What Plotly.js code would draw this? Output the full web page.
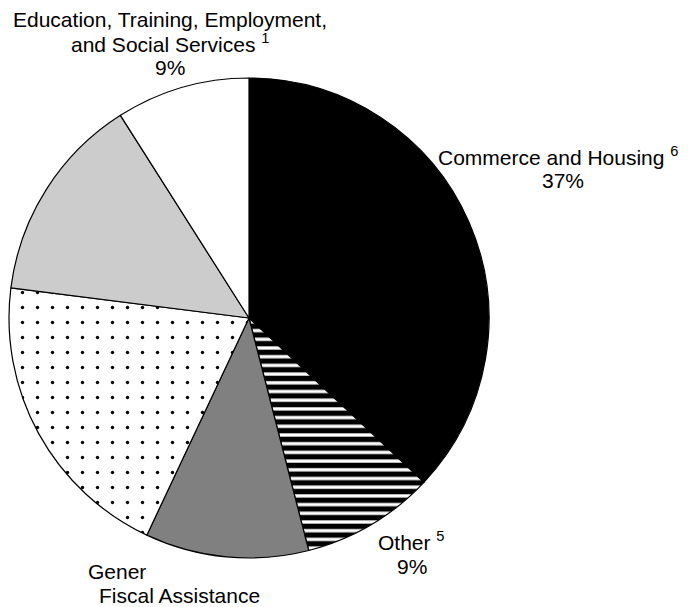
<!DOCTYPE html>
<html>
<head>
<meta charset="utf-8">
<script src="https://cdn.plot.ly/plotly-3.0.1.min.js"></script>
<style>html,body{margin:0;padding:0;background:#fff;}#chart{width:689px;height:607px;}</style>
</head>
<body>
<div id="chart"></div>
<script>
const categories = ["Commerce and Housing", "Other", "General Purpose Fiscal Assistance", "Unlabeled A", "Unlabeled B", "Education, Training, Employment, and Social Services"];
const shares = [37, 9, 11, 20, 14, 9];
const sliceColors = ["#000000", "#ffffff", "#808080", "#ffffff", "#cccccc", "#ffffff"];
const patternShapes = ["", "-", "", ".", "", ""];

const trace = {
  type: "pie",
  labels: categories,
  values: shares,
  sort: false,
  direction: "clockwise",
  rotation: 0,
  textinfo: "none",
  hoverinfo: "label+percent",
  showlegend: false,
  domain: {x: [9 / 689, 489 / 689], y: [49 / 607, 529 / 607]},
  marker: {
    colors: sliceColors,
    line: {color: "#000000", width: 1.2},
    pattern: {
      shape: patternShapes,
      fgcolor: "#000000",
      bgcolor: sliceColors,
      size: [8, 8.7, 8, 15, 8, 8],
      solidity: [0.3, 0.62, 0.3, 0.04, 0.3, 0.3],
      fillmode: "replace"
    }
  }
};

const font = {family: "Liberation Sans, Arial, sans-serif", size: 21, color: "#000"};
const annotations = [
  {x: 170, y: 19, text: "Education, Training, Employment,"},
  {x: 170, y: 43, text: "and Social Services <sup>1</sup>"},
  {x: 170, y: 67, text: "9%"},
  {x: 558, y: 156, text: "Commerce and Housing <sup>6</sup>"},
  {x: 563, y: 180, text: "37%"},
  {x: 411, y: 541, text: "Other <sup>5</sup>"},
  {x: 412, y: 566, text: "9%"},
  {x: 87, y: 571, text: "Gener", xanchor: "left"},
  {x: 98, y: 595, text: "Fiscal Assistance", xanchor: "left"}
].map(a => Object.assign({
  xref: "paper", yref: "paper", showarrow: false, align: "center",
  xanchor: "center", yanchor: "middle", font: font, borderpad: 0
}, a, {x: a.x / 689, y: 1 - a.y / 607}));

const layout = {
  width: 689, height: 607,
  margin: {l: 0, r: 0, t: 0, b: 0},
  paper_bgcolor: "#ffffff",
  plot_bgcolor: "#ffffff",
  annotations: annotations
};

Plotly.newPlot("chart", [trace], layout, {displayModeBar: false, staticPlot: true});
</script>
</body>
</html>
